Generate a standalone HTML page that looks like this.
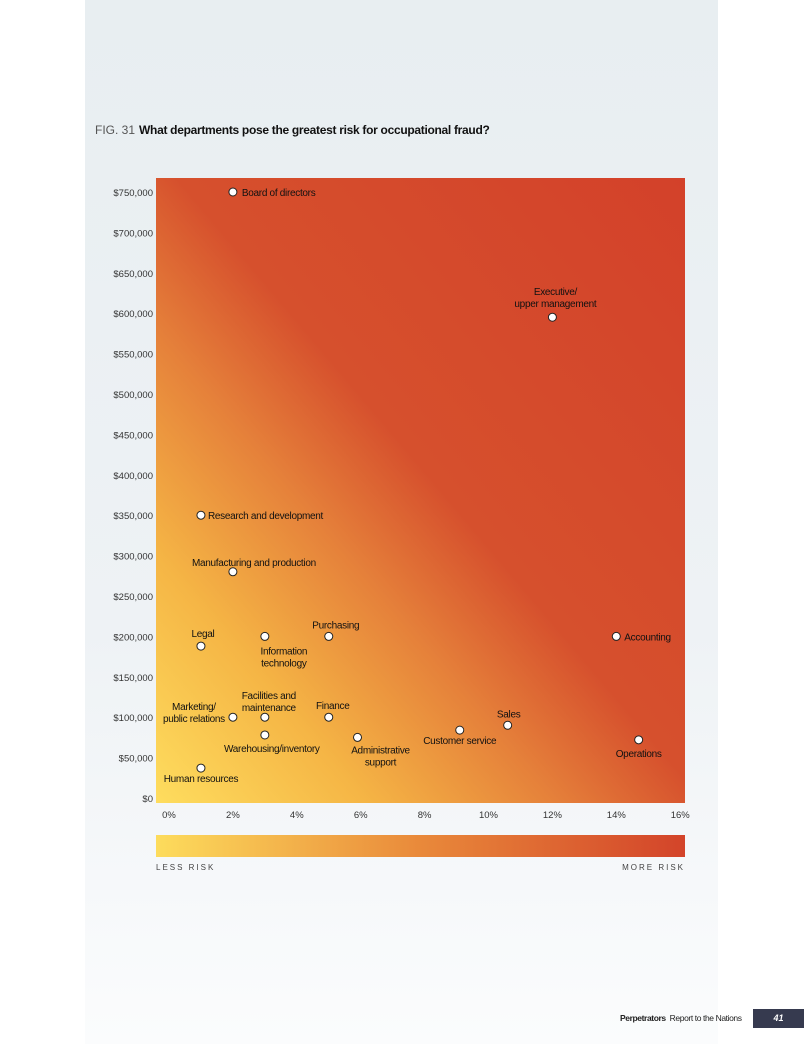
<!DOCTYPE html>
<html><head><meta charset="utf-8"><style>
body{margin:0;width:804px;height:1044px;background:#fff;font-family:"Liberation Sans",sans-serif;position:relative;overflow:hidden}
#panel{position:absolute;left:85px;top:0;width:633px;height:1044px;background:linear-gradient(#e8eef1 0%,#eef2f5 60%,#fbfcfd 100%)}
#title{position:absolute;left:95px;top:123px;font-size:12px;color:#111;white-space:nowrap}
#title .fig{color:#555;margin-right:4px}
#title b{letter-spacing:-0.3px}
svg{position:absolute;left:0;top:0}
#foot{position:absolute;left:620px;top:1013px;font-size:8.5px;color:#222;letter-spacing:-0.4px;white-space:nowrap}
#pg{position:absolute;left:753px;top:1009px;width:51px;height:19px;background:#363a4f;color:#fff;font-size:9px;font-weight:bold;font-style:italic;text-align:center;line-height:19px}
</style></head><body>
<div id="panel"></div>
<div id="title"><span class="fig">FIG. 31</span><b>What departments pose the greatest risk for occupational fraud?</b></div>
<svg id="chart" width="804" height="1044">
<defs>
<linearGradient id="bg" x1="0" y1="1" x2="1" y2="0">
<stop offset="0" stop-color="#fedd5e"/><stop offset="0.2" stop-color="#f5b545"/><stop offset="0.38" stop-color="#e5803a"/><stop offset="0.52" stop-color="#d6502d"/><stop offset="1" stop-color="#d3412a"/>
</linearGradient>
<linearGradient id="bar" x1="0" y1="0" x2="1" y2="0">
<stop offset="0" stop-color="#fddc5c"/><stop offset="0.5" stop-color="#e9893a"/><stop offset="1" stop-color="#d3442a"/>
</linearGradient>
</defs>
<rect x="156" y="178" width="529" height="625" fill="url(#bg)"/>
<rect x="156" y="835" width="529" height="22" fill="url(#bar)"/>
<text x="156" y="870" font-size="8" letter-spacing="2" fill="#444">LESS RISK</text>
<text x="685" y="870" font-size="8" letter-spacing="2" fill="#444" text-anchor="end">MORE RISK</text>
<g id="g"></g>
</svg>
<div id="foot"><b>Perpetrators</b>&nbsp; Report to the Nations</div>
<div id="pg">41</div>
<script>
const departments=["Board of directors","Executive/|upper management","Research and development","Manufacturing and production","Legal","Information|technology","Purchasing","Accounting","Marketing/|public relations","Facilities and|maintenance","Warehousing/inventory","Finance","Administrative|support","Customer service","Sales","Operations","Human resources"];
const pctCases=[2.0,12.0,1.0,2.0,1.0,3.0,5.0,14.0,2.0,3.0,3.0,5.0,5.9,9.1,10.6,14.7,1.0];
const medianLoss=[750000,595000,350000,280000,188000,200000,200000,200000,100000,100000,78000,100000,75000,84000,90000,72000,37000];
const xTicks=[0,2,4,6,8,10,12,14,16];
const yTicks=[0,50000,100000,150000,200000,250000,300000,350000,400000,450000,500000,550000,600000,650000,700000,750000];
// label layout: [anchor, dx, dy]
const labelLayout=[["start",9,4],["middle",3,-22],["start",7,4],["middle",21,-6],["middle",2,-9],["middle",19,18],["middle",7,-8],["start",8,4],["middle",-39,-7],["middle",4,-18],["middle",7,17],["middle",4,-8],["middle",23,16],["middle",0,14],["middle",1,-8],["middle",0,17],["middle",0,14]];
const X=v=>169+v*31.95;
const Y=v=>798-v*(606/750000);
const NS="http://www.w3.org/2000/svg";
const g=document.getElementById('g');
function mk(t,a){const e=document.createElementNS(NS,t);for(const k in a)e.setAttribute(k,a[k]);g.appendChild(e);return e;}
xTicks.forEach(t=>{const e=mk('text',{x:X(t),y:818,'font-size':9.5,'text-anchor':'middle',fill:'#333'});e.textContent=t+'%';

});
yTicks.forEach(t=>{const e=mk('text',{x:153,y:Y(t)+4,'font-size':9.5,'text-anchor':'end',fill:'#333'});e.textContent='$'+t.toLocaleString('en-US');

});
departments.forEach((d,i)=>{const cx=X(pctCases[i]),cy=Y(medianLoss[i]);
const c=mk('circle',{cx:cx,cy:cy,r:4,fill:'#fff',stroke:'#222','stroke-width':1});


const L=labelLayout[i];const lines=d.split('|');
const t=mk('text',{x:cx+L[1],y:cy+L[2],'font-size':10,'text-anchor':L[0],fill:'#111','letter-spacing':'-0.3'});


lines.forEach((ln,j)=>{const s=document.createElementNS(NS,'tspan');s.setAttribute('x',cx+L[1]);s.setAttribute('dy',j?12:0);s.textContent=ln;t.appendChild(s);});
});
</script>
</body></html>
